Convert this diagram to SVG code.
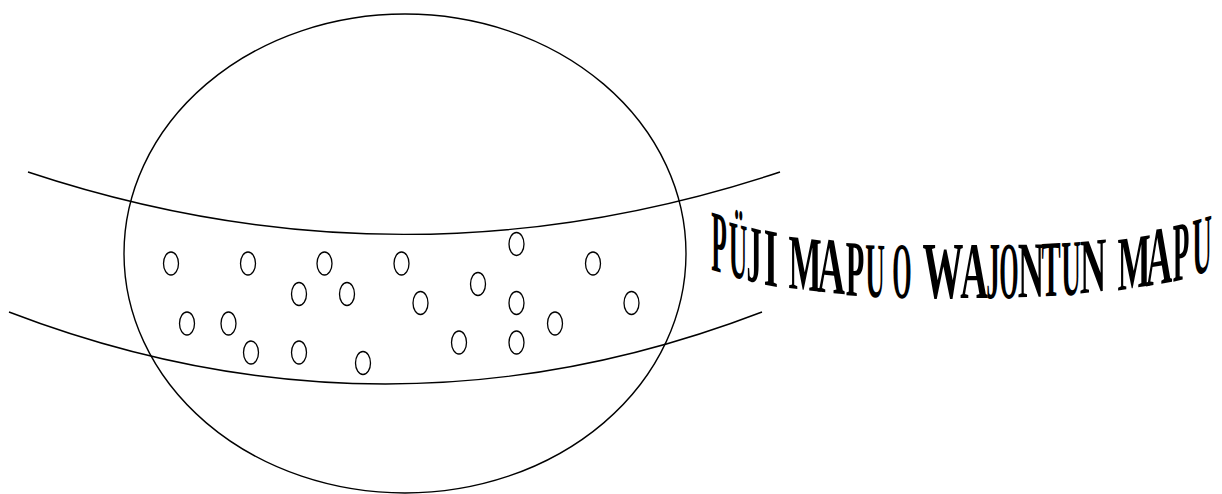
<svg xmlns="http://www.w3.org/2000/svg" width="1222" height="494" viewBox="0 0 1222 494">
<style>
.ln{fill:none;stroke:#000;stroke-width:1.4}
.dot{fill:none;stroke:#000;stroke-width:1.3}
.wa{font-family:"Liberation Serif","Times New Roman",serif;font-weight:bold;font-size:32px;fill:#000;text-anchor:middle}
</style>
<rect width="1222" height="494" fill="#fff"/>
<g id="planet">
<ellipse class="ln" cx="405" cy="253.5" rx="281" ry="239.5"/>
</g>
<g id="band">
<path class="ln" d="M28,172 C278,255 530,255 780,172"/>
<path class="ln" d="M9,312 C259,408 512,408 762,312"/>
</g>
<g id="dots">
<ellipse class="dot" cx="171" cy="263.5" rx="7.5" ry="11.5"/>
<ellipse class="dot" cx="248" cy="263.5" rx="7.5" ry="11.5"/>
<ellipse class="dot" cx="324.5" cy="263.5" rx="7.5" ry="11.5"/>
<ellipse class="dot" cx="401.5" cy="263.5" rx="7.5" ry="11.5"/>
<ellipse class="dot" cx="516.5" cy="244" rx="7.5" ry="11.5"/>
<ellipse class="dot" cx="593" cy="263.5" rx="7.5" ry="11.5"/>
<ellipse class="dot" cx="299" cy="294" rx="7.5" ry="11.5"/>
<ellipse class="dot" cx="347" cy="294" rx="7.5" ry="11.5"/>
<ellipse class="dot" cx="420.5" cy="303" rx="7.5" ry="11.5"/>
<ellipse class="dot" cx="478" cy="284" rx="7.5" ry="11.5"/>
<ellipse class="dot" cx="516.5" cy="303" rx="7.5" ry="11.5"/>
<ellipse class="dot" cx="631.5" cy="303" rx="7.5" ry="11.5"/>
<ellipse class="dot" cx="187" cy="323.5" rx="7.5" ry="11.5"/>
<ellipse class="dot" cx="228.5" cy="323.5" rx="7.5" ry="11.5"/>
<ellipse class="dot" cx="555" cy="323.5" rx="7.5" ry="11.5"/>
<ellipse class="dot" cx="251" cy="352.5" rx="7.5" ry="11.5"/>
<ellipse class="dot" cx="299" cy="352.5" rx="7.5" ry="11.5"/>
<ellipse class="dot" cx="363" cy="363" rx="7.5" ry="11.5"/>
<ellipse class="dot" cx="459" cy="342.5" rx="7.5" ry="11.5"/>
<ellipse class="dot" cx="516.5" cy="342.5" rx="7.5" ry="11.5"/>
</g>
<g id="title">
<text class="wa" transform="matrix(0.8,0.24,0,2.74,719,272)">P</text>
<text class="wa" transform="matrix(0.8,0.22,0,2.55,738,278)">Ü</text>
<text class="wa" transform="matrix(0.95,0.25,0,2.55,754,282)">J</text>
<text class="wa" transform="matrix(1.15,0.23,0,2.6,771,286)">I</text>
<text class="wa" transform="matrix(1.1,0.13,0,2.45,805,290)">M</text>
<text class="wa" transform="matrix(1.2,0.12,0,2.5,831,293)">A</text>
<text class="wa" transform="matrix(0.95,0.07,0,2.5,855,296)">P</text>
<text class="wa" transform="matrix(0.85,0.04,0,2.45,875,297)">U</text>
<text class="wa" transform="matrix(0.78,0.02,0,2.5,902,298)">O</text>
<text class="wa" transform="matrix(1.28,0,0,2.5,943,298)">W</text>
<text class="wa" transform="matrix(1.2,0,0,2.5,974,298)">A</text>
<text class="wa" transform="matrix(0.85,0,0,2.5,993,298)">J</text>
<text class="wa" transform="matrix(0.78,0,0,2.5,1009,297.5)">O</text>
<text class="wa" transform="matrix(1.15,-0.02,0,2.5,1031,297)">N</text>
<text class="wa" transform="matrix(0.9,-0.05,0,2.5,1051,296)">T</text>
<text class="wa" transform="matrix(0.85,-0.06,0,2.5,1071,295)">U</text>
<text class="wa" transform="matrix(1.15,-0.12,0,2.45,1093,292)">N</text>
<text class="wa" transform="matrix(1.1,-0.17,0,2.4,1134,288)">M</text>
<text class="wa" transform="matrix(1.15,-0.21,0,2.6,1159,284)">A</text>
<text class="wa" transform="matrix(0.85,-0.21,0,2.65,1181,280)">P</text>
<text class="wa" transform="matrix(0.85,-0.26,0,2.6,1202,273)">U</text>
</g>
</svg>
